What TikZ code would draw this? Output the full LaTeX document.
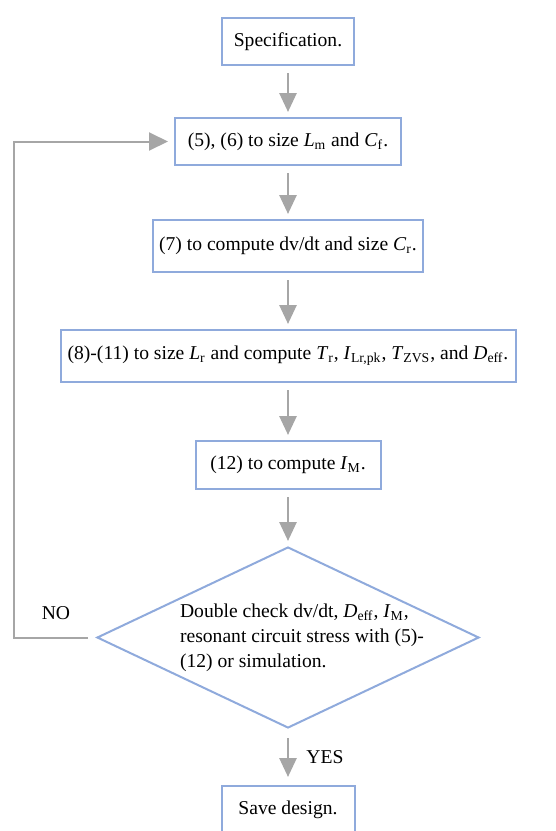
\documentclass[tikz,border=0pt]{standalone}
\usepackage{fontspec}
\setmainfont{Liberation Serif}
\usetikzlibrary{arrows.meta, positioning, shapes.geometric}
\newcommand{\varsub}[2]{\textit{#1}\textsubscript{#2}}
\definecolor{boxblue}{RGB}{143,170,220}
\definecolor{flowgray}{RGB}{166,166,166}

\begin{document}
\begin{tikzpicture}[
  x=0.5pt, y=-0.5pt,
  font=\fontsize{9.8}{12.5}\selectfont,
  stepbox/.style={draw=boxblue, line width=1pt, align=center, minimum height=23.5pt, inner xsep=3pt},
  decision/.style={draw=boxblue, line width=1pt, diamond, minimum width=191pt, minimum height=90.5pt, inner sep=0pt},
  arrow/.style={-{Triangle[length=9.5pt, width=8.5pt]}, draw=flowgray, line width=1.4pt, shorten <=3.5pt, shorten >=2.5pt},
  loopline/.style={-{Triangle[length=9.5pt, width=9pt]}, draw=flowgray, line width=1pt, shorten <=4pt, shorten >=3pt},
  flowlabel/.style={inner sep=1pt}
]
\useasboundingbox (0,0) rectangle (556,831);
\node[stepbox, minimum width=66pt] (spec) at (288,41.5) {Specification.};
\node[stepbox, minimum width=113pt, below=25.5pt of spec] (sizelm) {(5), (6) to size \varsub{L}{m} and \varsub{C}{f}.};
\node[stepbox, minimum width=135pt, minimum height=26pt, below=26.5pt of sizelm] (sizecr) {(7) to compute dv/dt and size \varsub{C}{r}.};
\node[stepbox, minimum width=227.5pt, minimum height=26pt, inner xsep=1pt, below=28pt of sizecr] (sizelr) {(8)-(11) to size \varsub{L}{r} and compute \varsub{T}{r}, \varsub{I}{Lr,pk}, \varsub{T}{ZVS}, and \varsub{D}{eff}.};
\node[stepbox, minimum width=92.5pt, minimum height=24pt, below=28.5pt of sizelr] (compim) {(12) to compute \varsub{I}{M}.};
\node[decision, below=28pt of compim] (check) {};
\node[align=left, xshift=7pt] (checktext) at (check) {Double check dv/dt, \varsub{D}{eff}, \varsub{I}{M},\\resonant circuit stress with (5)-\\(12) or simulation.};
\node[stepbox, minimum width=66.5pt, below=28pt of check] (save) {Save design.};
\node[flowlabel] (no) at (56,613) {NO};
\coordinate (loopx) at (14,0);

\draw[arrow] (spec) -- (sizelm);
\draw[arrow] (sizelm) -- (sizecr);
\draw[arrow] (sizecr) -- (sizelr);
\draw[arrow] (sizelr) -- (compim);
\draw[arrow] (compim) -- (check);
\draw[arrow, shorten <=4.5pt, shorten >=4pt] (check) -- node[flowlabel, right=7.5pt]{YES} (save);
\draw[loopline] (check.west) -- (check.west -| loopx) |- (sizelm.west);
\end{tikzpicture}
\end{document}
